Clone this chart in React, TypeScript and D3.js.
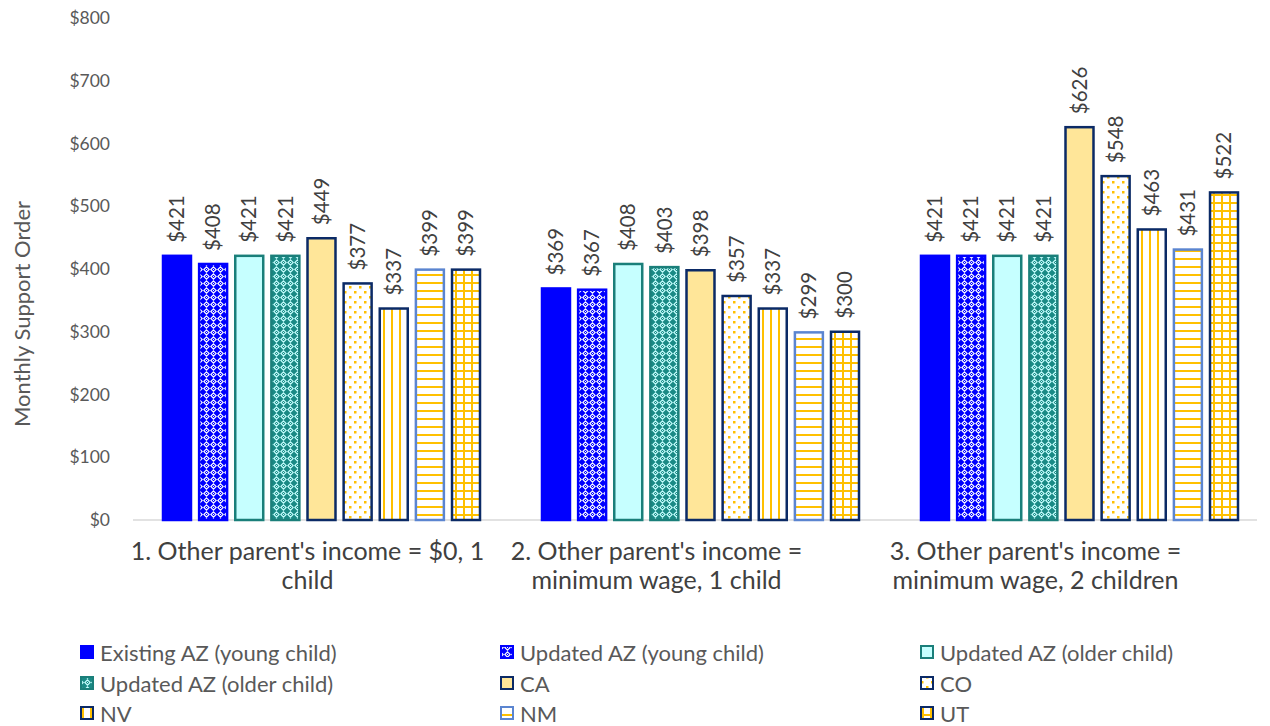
import React from "react";
import * as d3 from "d3";

const categories = [
  ["1. Other parent's income = $0, 1", "child"],
  ["2. Other parent's income =", "minimum wage, 1 child"],
  ["3. Other parent's income =", "minimum wage, 2 children"],
];
const seriesNames = [
  "Existing AZ (young child)",
  "Updated AZ (young child)",
  "Updated AZ (older child)",
  "Updated AZ (older child) ",
  "CA",
  "CO",
  "NV",
  "NM",
  "UT",
];
const group1 = [421, 408, 421, 421, 449, 377, 337, 399, 399];
const group2 = [369, 367, 408, 403, 398, 357, 337, 299, 300];
const group3 = [421, 421, 421, 421, 626, 548, 463, 431, 522];
const groups = [group1, group2, group3];
const yTicks = [0, 100, 200, 300, 400, 500, 600, 700, 800];

const fills = [
  "#0000FF",
  "url(#pAZy)",
  "#C6FFFF",
  "url(#pAZo)",
  "#FFE699",
  "url(#pCO)",
  "url(#pNV)",
  "url(#pNM)",
  "url(#pUT)",
];
const strokes = [
  "#0000FF",
  "#0000FF",
  "#1A7F7A",
  "#1A7F7A",
  "#0B2A66",
  "#0B2A66",
  "#0B2A66",
  "#5B85D0",
  "#0B2A66",
];

const W = 1270;
const H = 726;
const FONT = "Lato, 'Open Sans', sans-serif";
const labelShift = [-14, -44, -44];

export default function App() {
  const left = 133;
  const axisRight = 1257;
  const groupStep = 379;
  const top = 18;
  const bottom = 520;
  const y = d3.scaleLinear().domain([0, 800]).range([bottom, top]);
  const x0 = d3
    .scaleBand<number>()
    .domain(d3.range(categories.length))
    .range([left, left + groupStep * categories.length])
    .padding(0);
  const x1 = d3
    .scaleBand<number>()
    .domain(d3.range(seriesNames.length))
    .range([29, 29 + 319])
    .paddingInner(0.17)
    .paddingOuter(0);

  const legendCols = [80, 500, 920];
  const legendRows = [653, 684, 714];

  return (
    <svg
      width={W}
      height={H}
      style={{ position: "absolute", left: 0, top: 0, background: "#fff" }}
      fontFamily={FONT}
    >
      <defs>
        <pattern id="pAZy" width="7" height="7" patternUnits="userSpaceOnUse">
          <rect width="7" height="7" fill="#0000FF" />
          <path d="M3.5 0.8 L6.2 3.5 L3.5 6.2 L0.8 3.5 Z" fill="none" stroke="#fff" strokeWidth="1.1" />
          <rect x="3" y="3" width="1" height="1" fill="#fff" />
        </pattern>
        <pattern id="pAZo" width="7" height="7" patternUnits="userSpaceOnUse">
          <rect width="7" height="7" fill="#1A8A85" />
          <path d="M3.5 0.8 L6.2 3.5 L3.5 6.2 L0.8 3.5 Z" fill="none" stroke="#C6FFFF" strokeWidth="1.1" />
          <rect x="3" y="3" width="1" height="1" fill="#C6FFFF" />
        </pattern>
        <pattern id="pCO" width="10" height="10" patternUnits="userSpaceOnUse">
          <rect width="10" height="10" fill="#fff" />
          <rect x="1" y="1" width="2.5" height="2.5" fill="#FFC000" />
          <rect x="6" y="6" width="2.5" height="2.5" fill="#FFC000" />
        </pattern>
        <pattern id="pNV" width="8" height="8" patternUnits="userSpaceOnUse">
          <rect width="8" height="8" fill="#fff" />
          <rect x="2" y="0" width="2" height="8" fill="#FFC000" />
        </pattern>
        <pattern id="pNM" width="8" height="8" patternUnits="userSpaceOnUse">
          <rect width="8" height="8" fill="#fff" />
          <rect x="0" y="2" width="8" height="2" fill="#FFC000" />
        </pattern>
        <pattern id="pUT" width="8" height="8" patternUnits="userSpaceOnUse">
          <rect width="8" height="8" fill="#fff" />
          <rect x="2" y="0" width="2" height="8" fill="#FFC000" />
          <rect x="0" y="2" width="8" height="2" fill="#FFC000" />
        </pattern>
      </defs>

      {/* y axis tick labels */}
      {yTicks.map((t) => (
        <text
          key={t}
          x={110}
          y={y(t)}
          dy="0.35em"
          textAnchor="end"
          fontSize={17.5}
          fill="#595959"
        >
          {d3.format("$,")(t)}
        </text>
      ))}
      <text
        transform={`translate(30,314) rotate(-90)`}
        textAnchor="middle"
        fontSize={22}
        fill="#595959"
      >
        Monthly Support Order
      </text>

      {/* axis line */}
      <line x1={left} x2={axisRight} y1={bottom} y2={bottom} stroke="#D9D9D9" strokeWidth={1.5} />

      {/* bars */}
      {groups.map((vals, gi) => (
        <g key={gi} transform={`translate(${x0(gi)},0)`}>
          {vals.map((v, si) => {
            const bx = x1(si)!;
            const w = x1.bandwidth();
            return (
              <g key={si}>
                <rect
                  x={bx + 1}
                  y={y(v)}
                  width={w - 2}
                  height={bottom - y(v)}
                  fill={fills[si]}
                  stroke={strokes[si]}
                  strokeWidth={2.5}
                />
                <text
                  transform={`translate(${bx + w / 2},${y(v) - 13}) rotate(-90)`}
                  dy="0.35em"
                  textAnchor="start"
                  fontSize={20.5}
                  fill="#404040"
                >
                  {d3.format("$,")(v)}
                </text>
              </g>
            );
          })}
        </g>
      ))}

      {/* category labels */}
      {categories.map((lines, gi) => {
        const cx = x0(gi)! + 29 + 319 / 2 + labelShift[gi];
        return (
          <text key={gi} textAnchor="middle" fontSize={25} fill="#404040">
            {lines.map((l, li) => (
              <tspan key={li} x={cx} y={560 + li * 29}>
                {l}
              </tspan>
            ))}
          </text>
        );
      })}

      {/* legend */}
      {seriesNames.map((name, i) => {
        const cx = legendCols[i % 3];
        const cy = legendRows[Math.floor(i / 3)];
        return (
          <g key={i}>
            <rect
              x={cx + 1}
              y={cy - 7}
              width={12}
              height={12}
              fill={fills[i]}
              stroke={strokes[i]}
              strokeWidth={2}
            />
            <text x={cx + 20} y={cy} dy="0.35em" fontSize={22} fill="#595959">
              {name.trim()}
            </text>
          </g>
        );
      })}
    </svg>
  );
}
